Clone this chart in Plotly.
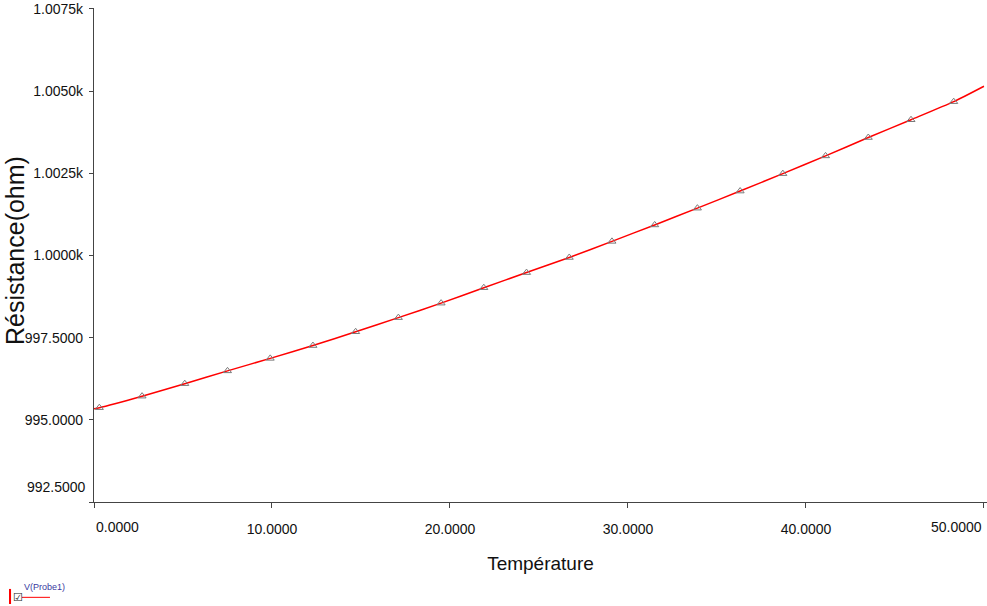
import plotly.graph_objects as go

# Data (Temperature in °C, Resistance in ohm)
temp_line = [0.0, 0.3, 2.7, 5.1, 7.5, 9.9, 12.3, 14.7, 17.1, 19.5, 21.9, 24.3, 26.7,
             29.1, 31.5, 33.9, 36.3, 38.7, 41.1, 43.5, 45.9, 48.3, 50.0]
res_line = [995.34, 995.37, 995.72, 996.10, 996.49, 996.87, 997.26, 997.68, 998.11,
            998.55, 999.02, 999.48, 999.94, 1000.43, 1000.93, 1001.44, 1001.96,
            1002.49, 1003.03, 1003.59, 1004.13, 1004.68, 1005.15]
temp_markers = temp_line[1:-1]
res_markers = res_line[1:-1]

x_tickvals = [0, 10, 20, 30, 40, 50]
x_ticktext = ["0.0000", "10.0000", "20.0000", "30.0000", "40.0000", "50.0000"]
y_tickvals = [992.5, 995.0, 997.5, 1000.0, 1002.5, 1005.0, 1007.5]
y_ticktext = ["992.5000", "995.0000", "997.5000", "1.0000k", "1.0025k", "1.0050k", "1.0075k"]

FONT = "Liberation Sans, Arial"
TICKSIZE = 14

fig = go.Figure()
fig.add_trace(go.Scatter(x=temp_line, y=res_line, mode="lines",
                         line=dict(color="#ff0000", width=1.5, shape="spline", smoothing=0.6),
                         showlegend=False, hoverinfo="skip"))
fig.add_trace(go.Scatter(x=temp_markers, y=res_markers, mode="markers",
                         marker=dict(symbol="triangle-up-open", size=7,
                                     color="#7a7a7a", line=dict(width=1)),
                         name="V(Probe1)", showlegend=False))

# middle x labels on axis; edge ones as annotations (aligned like the original)
mid_text = ["" if i in (0, len(x_ticktext) - 1) else t for i, t in enumerate(x_ticktext)]
y_text = ["" if v == y_tickvals[0] else t for v, t in zip(y_tickvals, y_ticktext)]

fig.update_layout(
    width=987, height=606,
    margin=dict(l=94, r=0, t=8, b=104, autoexpand=False),
    paper_bgcolor="white", plot_bgcolor="white",
    font=dict(family=FONT, size=TICKSIZE, color="#111111"),
    xaxis=dict(range=[0, 50.17], tickvals=x_tickvals, ticktext=mid_text,
               ticks="outside", ticklen=5, tickcolor="#444", tickwidth=1,
               showline=True, linecolor="#444", linewidth=1.2,
               showgrid=False, zeroline=False, automargin=False,
               tickfont=dict(family=FONT, size=TICKSIZE, color="#111"),
               ticklabelstandoff=9,
               title=dict(text="Température", font=dict(family=FONT, size=19, color="#111"),
                          standoff=20)),
    yaxis=dict(range=[992.5, 1007.53], tickvals=y_tickvals, ticktext=y_text,
               ticks="outside", ticklen=4, tickcolor="#444", tickwidth=1,
               showline=True, linecolor="#444", linewidth=1.2,
               showgrid=False, zeroline=False, automargin=False,
               tickfont=dict(family=FONT, size=TICKSIZE, color="#111"),
               ticklabelstandoff=3),
)

# y-axis title placed as a rotated text left of the tick labels
fig.add_annotation(x=-0.0885, y=0.51, xref="paper", yref="paper", text="Résistance(ohm)",
                   textangle=-90, showarrow=False, xanchor="center", yanchor="middle",
                   font=dict(family=FONT, size=25, color="#111"))

fig.add_annotation(x=x_tickvals[0], y=0, xref="x", yref="paper", yshift=-15,
                   text=x_ticktext[0], showarrow=False, xanchor="left", yanchor="top",
                   font=dict(family=FONT, size=TICKSIZE, color="#111"))
fig.add_annotation(x=x_tickvals[-1], y=0, xref="x", yref="paper", yshift=-15,
                   text=x_ticktext[-1], showarrow=False, xanchor="right", yanchor="top",
                   font=dict(family=FONT, size=TICKSIZE, color="#111"))
fig.add_annotation(x=0, y=y_tickvals[0], xref="paper", yref="y", xshift=-6, yshift=15,
                   text=y_ticktext[0], showarrow=False, xanchor="right", yanchor="middle",
                   font=dict(family=FONT, size=TICKSIZE, color="#111"))

# legend-like probe marker in the bottom-left corner
fig.add_shape(type="rect", xref="paper", yref="paper", x0=-0.0952, x1=-0.0929,
              y0=-0.2065, y1=-0.176, fillcolor="#ff0000", line=dict(width=0))
fig.add_annotation(x=-0.0925, y=-0.194, xref="paper", yref="paper", text="☑",
                   showarrow=False, xanchor="left", yanchor="middle",
                   font=dict(family="DejaVu Sans", size=11, color="#222"))
fig.add_annotation(x=-0.0806, y=-0.172, xref="paper", yref="paper", text="V(Probe1)",
                   showarrow=False, xanchor="left", yanchor="middle",
                   font=dict(family=FONT, size=9, color="#3a3aa0"))
fig.add_shape(type="line", xref="paper", yref="paper", x0=-0.0806, x1=-0.0493,
              y0=-0.193, y1=-0.193, line=dict(color="#ff0000", width=1))

fig.write_html("out.html")
